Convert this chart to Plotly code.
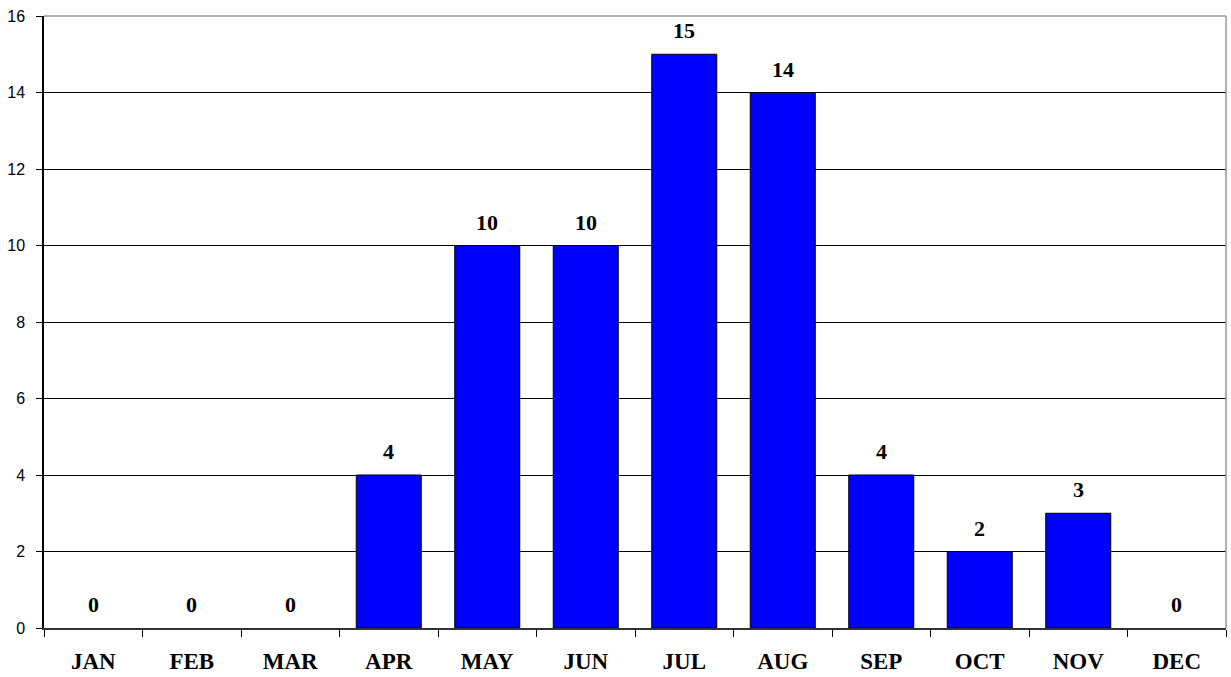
import plotly.graph_objects as go

months = ["JAN", "FEB", "MAR", "APR", "MAY", "JUN",
          "JUL", "AUG", "SEP", "OCT", "NOV", "DEC"]
counts = [0, 0, 0, 4, 10, 10, 15, 14, 4, 2, 3, 0]
y_ticks = [0, 2, 4, 6, 8, 10, 12, 14, 16]

label_font = dict(family="Liberation Serif", size=22, color="black", weight="bold")

fig = go.Figure(
    go.Bar(
        x=months,
        y=counts,
        marker=dict(
            color="#0000FF",
            line=dict(color="black", width=[0 if v == 0 else 1 for v in counts]),
        ),
        width=0.66,
    )
)

# value labels above each bar
for m, v in zip(months, counts):
    fig.add_annotation(
        x=m, y=v, text=str(v), showarrow=False,
        yanchor="bottom", yshift=9, font=label_font,
    )

fig.update_layout(
    width=1231,
    height=677,
    margin=dict(l=44, r=5, t=16, b=49),
    paper_bgcolor="white",
    plot_bgcolor="white",
    showlegend=False,
    xaxis=dict(
        type="category",
        tickson="boundaries",
        ticks="outside",
        ticklen=7,
        tickcolor="black",
        tickwidth=1,
        showline=True,
        linecolor="#333333",
        linewidth=1.5,
        showgrid=False,
        automargin=False,
        ticklabelstandoff=12,
        tickfont=dict(family="Liberation Serif", size=23, color="black", weight="bold"),
    ),
    yaxis=dict(
        range=[0, 16],
        tickvals=y_ticks,
        ticks="outside",
        ticklen=6,
        tickcolor="black",
        showline=True,
        linecolor="black",
        linewidth=1.5,
        showgrid=True,
        gridcolor="black",
        gridwidth=1,
        zeroline=False,
        automargin=False,
        ticklabelstandoff=8,
        tickfont=dict(family="Liberation Sans", size=16, color="black"),
    ),
    shapes=[
        dict(type="line", xref="paper", yref="paper", x0=0, x1=1, y0=1, y1=1,
             line=dict(color="#999999", width=1.5), layer="above"),
        dict(type="line", xref="paper", yref="paper", x0=1, x1=1, y0=0, y1=1,
             line=dict(color="#999999", width=1.5), layer="above"),
    ],
)

fig.write_html("out.html")
